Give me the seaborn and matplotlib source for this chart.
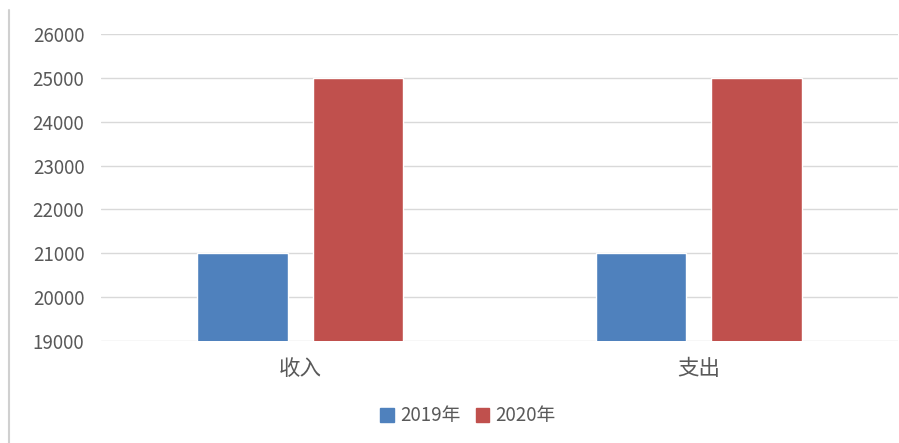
import matplotlib
matplotlib.use("Agg")
import matplotlib.pyplot as plt
from matplotlib.lines import Line2D
import seaborn as sns
import pandas as pd

categories = ["收入", "支出"]
years = ["2019年", "2020年"]
values_2019 = [21000, 21000]
values_2020 = [25000, 25000]
y_ticks = [19000, 20000, 21000, 22000, 23000, 24000, 25000, 26000]

df = pd.DataFrame({
    "类别": categories * 2,
    "年份": [years[0]] * len(categories) + [years[1]] * len(categories),
    "金额": values_2019 + values_2020,
})

sns.set_theme(style="white")
plt.rcParams["font.family"] = ["Noto Sans CJK SC", "DejaVu Sans"]

W, H = 899, 443
fig = plt.figure(figsize=(W / 100, H / 100), dpi=100)
ax = fig.add_axes([101 / W, 1 - 341 / H, (898 - 101) / W, (341 - 34) / H])

palette = {years[0]: "#4F81BD", years[1]: "#C0504D"}
sns.barplot(data=df, x="类别", y="金额", hue="年份", order=categories,
            hue_order=years, palette=palette, width=0.58, gap=0.22,
            saturation=1, ax=ax, legend=False, zorder=3)

ax.set_ylim(y_ticks[0], y_ticks[-1])
ax.set_xlim(-0.5, 1.5)
ax.set_yticks(y_ticks)
ax.set_yticklabels([str(v) for v in y_ticks])
ax.grid(axis="y", color="#D9D9D9", linewidth=1.0, zorder=0)
ax.grid(axis="x", visible=False)
for s in ax.spines.values():
    s.set_visible(False)
ax.set_xlabel("")
ax.set_ylabel("")
ax.tick_params(axis="y", length=0, pad=12, labelsize=13.5, labelcolor="#595959")
ax.tick_params(axis="x", length=0, pad=12, labelsize=15.5, labelcolor="#595959")

# thin frame edge on the left
fig.add_artist(Line2D([9 / W, 9 / W], [0, 1 - 10 / H], color="#D0D0D0", linewidth=1.5))

handles = [plt.Rectangle((0, 0), 1, 1, color=palette[y]) for y in years]
fig.legend(handles, years, loc="center", bbox_to_anchor=(468 / W, 1 - 416 / H),
           ncol=2, frameon=False, fontsize=13.5, handlelength=0.7, handleheight=0.7,
           handletextpad=0.35, columnspacing=0.8, labelcolor="#595959")

fig.savefig("out.png", dpi=100, facecolor="white")
